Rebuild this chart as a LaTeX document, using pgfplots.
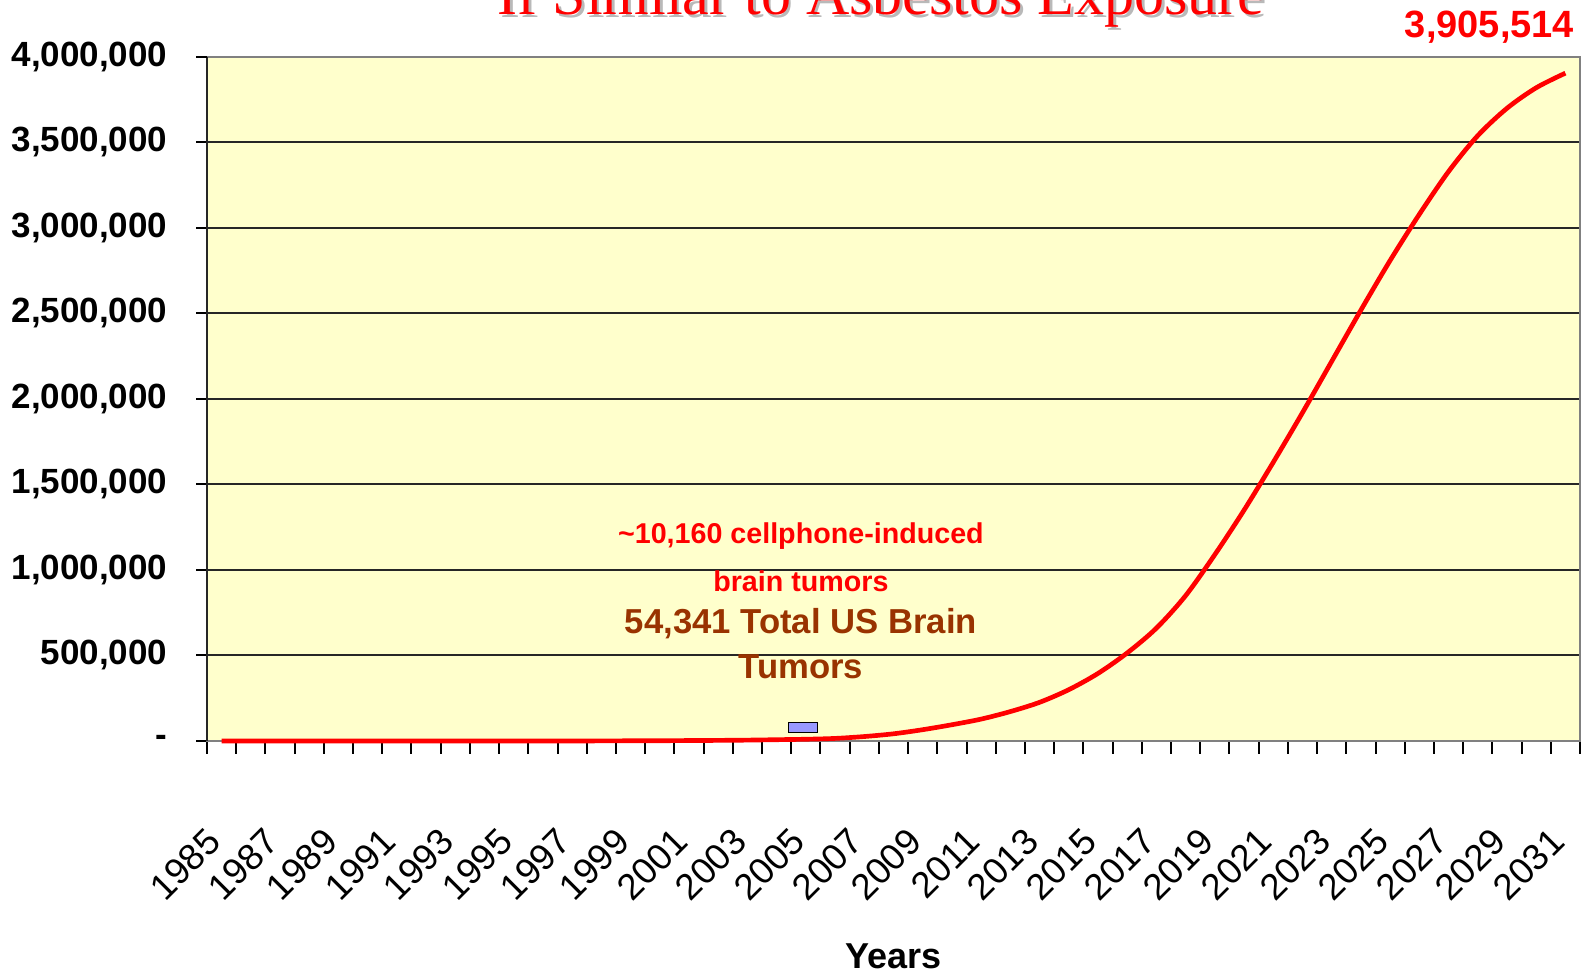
\documentclass[border=0pt]{standalone}
\usepackage{pgfplots}
\pgfplotsset{compat=1.18}
\usepackage{fontspec}
\setmainfont{Liberation Sans}
\newfontfamily\titlefont{Liberation Serif}
\definecolor{plotbg}{RGB}{255,255,204}
\definecolor{barblue}{RGB}{153,153,255}
\definecolor{tumbrown}{RGB}{153,51,0}
\definecolor{xred}{RGB}{255,0,0}
\newcommand\fourM{4,000,000}
\begin{document}
\begin{tikzpicture}
\begin{axis}[
  scale only axis, width=411.9pt, height=205.2pt,
  xmin=-0.5, xmax=46.5, ymin=0, ymax=4000000,
  scaled y ticks=false,
  axis background/.style={fill=plotbg},
  axis line style={draw=gray, line width=0.5pt},
  clip=false,
  tick align=outside,
  xtick pos=bottom, ytick pos=left,
  xtick={0,2,4,6,8,10,12,14,16,18,20,22,24,26,28,30,32,34,36,38,40,42,44,46},
  xticklabels={1985,1987,1989,1991,1993,1995,1997,1999,2001,2003,2005,2007,2009,2011,2013,2015,2017,2019,2021,2023,2025,2027,2029,2031},
  major x tick style={draw=none},
  minor xtick={-0.5,0.5,1.5,2.5,3.5,4.5,5.5,6.5,7.5,8.5,9.5,10.5,11.5,12.5,13.5,14.5,15.5,16.5,17.5,18.5,19.5,20.5,21.5,22.5,23.5,24.5,25.5,26.5,27.5,28.5,29.5,30.5,31.5,32.5,33.5,34.5,35.5,36.5,37.5,38.5,39.5,40.5,41.5,42.5,43.5,44.5,45.5,46.5},
  minor x tick style={black, line width=0.6pt},
  minor tick length=3.8pt,
  major tick length=3.3pt,
  major y tick style={black, line width=0.6pt},
  ytick={0,500000,1000000,1500000,2000000,2500000,3000000,3500000},
  yticklabels={{-},{500,000},{1,000,000},{1,500,000},{2,000,000},{2,500,000},{3,000,000},{3,500,000}},
  extra y ticks={4000000},
  extra y tick labels={\fourM},
  extra y tick style={grid=none},
  extra x ticks={-0.5},
  extra x tick labels={},
  extra x tick style={grid=major},
  ymajorgrids=true,
  major grid style={black!85, line width=0.6pt},
  yticklabel style={font=\fontsize{10.5}{12}\selectfont\bfseries, inner sep=0pt, anchor=east, xshift=-8.4pt},
  xticklabel style={font=\fontsize{11}{12}\selectfont, inner sep=0pt, xshift=-5.1pt, yshift=-22pt, rotate=45, anchor=north east},
  xlabel={Years},
  xlabel style={font=\fontsize{10.8}{12}\selectfont\bfseries, at={(axis description cs:0.5,0)}, anchor=center, yshift=-64.5pt},
]
\addplot[fill=barblue, draw=black, line width=0.5pt] coordinates {(19.4,50000) (20.4,50000) (20.4,108000) (19.4,108000)} -- cycle;
\addplot[xred, line width=1.4pt, smooth] coordinates {
(0,0) (1,0) (2,0) (3,0) (4,0) (5,0) (6,0) (7,0) (8,0) (9,0) (10,0) (11,0) (12,0)
(13,500) (14,1000) (15,1500) (16,2500) (17,3500) (18,5000) (19,7500) (20,10160)
(21,15000) (22,26000) (23,42000) (24,66000) (25,95000) (26,128000) (27,172000)
(28,226000) (29,300000) (30,395000) (31,515000) (32,660000) (33,850000) (34,1090000)
(35,1350000) (36,1630000) (37,1920000) (38,2220000) (39,2520000) (40,2810000)
(41,3080000) (42,3330000) (43,3540000) (44,3700000) (45,3820000) (46,3905514)
};
\node[anchor=base, text=gray!55, font=\titlefont\fontsize{18}{20}\selectfont, xshift=0.8pt, yshift=-0.8pt] at (axis cs:22.58,4246000) {If Similar to Asbestos Exposure};
\node[anchor=base, text=xred, font=\titlefont\fontsize{18}{20}\selectfont] at (axis cs:22.58,4246000) {If Similar to Asbestos Exposure};
\node[text=xred, font=\fontsize{11.4}{13}\selectfont\bfseries] at (axis cs:43.4,4175000) {3,905,514};
\node[text=xred, font=\fontsize{8.6}{10}\selectfont\bfseries] at (axis cs:19.83,1199000) {\textasciitilde10,160 cellphone-induced};
\node[text=xred, font=\fontsize{8.6}{10}\selectfont\bfseries] at (axis cs:19.83,936000) {brain tumors};
\node[text=tumbrown, font=\fontsize{10.4}{12}\selectfont\bfseries] at (axis cs:19.83,684000) {54,341 Total US Brain};
\node[text=tumbrown, font=\fontsize{10.4}{12}\selectfont\bfseries] at (axis cs:19.83,433000) {Tumors};
\end{axis}
\pgfresetboundingbox
\path[use as bounding box] ([shift={(-62.1pt,-69.9pt)}]current axis.south west) rectangle ([shift={(1.5pt,17.1pt)}]current axis.north east);
\end{tikzpicture}
\end{document}
